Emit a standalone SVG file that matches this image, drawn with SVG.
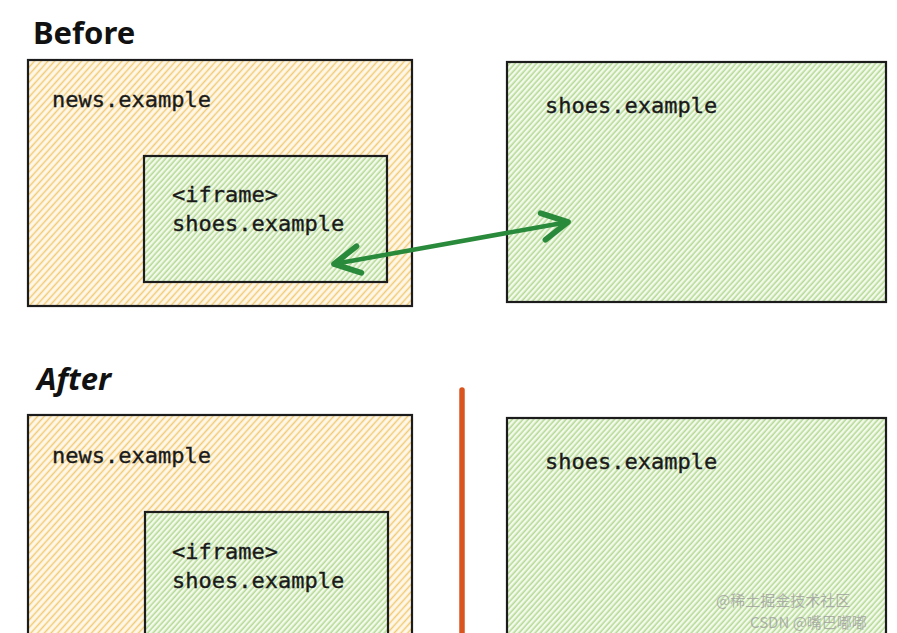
<svg xmlns="http://www.w3.org/2000/svg" width="897" height="633" viewBox="0 0 897 633">
<defs>
<pattern id="hatchO" width="5" height="5" patternUnits="userSpaceOnUse" patternTransform="rotate(42)">
<rect width="5" height="5" fill="#fef8ea"/>
<line x1="1.5" y1="0" x2="1.5" y2="5" stroke="#f2ca72" stroke-width="1.5"/>
</pattern>
<pattern id="hatchG" width="4" height="4" patternUnits="userSpaceOnUse" patternTransform="rotate(42)">
<rect width="4" height="4" fill="#f3f9ec"/>
<line x1="1.2" y1="0" x2="1.2" y2="4" stroke="#a9d583" stroke-width="1.3"/>
</pattern>
<marker id="ah" viewBox="0 0 20 20" refX="17" refY="10" markerWidth="7.5" markerHeight="7.5" orient="auto-start-reverse" markerUnits="strokeWidth">
<path d="M2,2 L17,10 L2,18" fill="none" stroke="#2a8a3c" stroke-width="3.4" stroke-linecap="round" stroke-linejoin="round"/>
</marker>
</defs>
<style>
.box{stroke:#1c1c1c;stroke-width:2.2}
.o{fill:url(#hatchO)}
.g{fill:url(#hatchG)}
.mono{font-family:"DejaVu Sans Mono",monospace;font-size:22px;fill:#1a1a1a;stroke:#1a1a1a;stroke-width:0.35}
.hand{font-family:"Noto Sans",sans-serif;font-size:31px;font-weight:bold;fill:#111}
.wm{font-family:"Noto Sans CJK SC",sans-serif;font-size:15px;fill:#9a9a9a;fill-opacity:0.75}
</style>
<rect width="897" height="633" fill="#ffffff"/>
<text class="hand" x="33" y="44">Before</text>
<text class="hand" x="37" y="390" font-style="italic">After</text>

<g id="news-before">
<rect class="box o" x="28" y="60" width="384" height="246"/>
<text class="mono" x="52" y="107">news.example</text>
</g>
<g id="iframe-before">
<rect class="box g" x="144" y="156" width="243" height="126"/>
<text class="mono" x="172" y="202">&lt;iframe&gt;</text>
<text class="mono" x="172" y="231">shoes.example</text>
</g>
<g id="shoes-before">
<rect class="box g" x="507" y="62" width="379" height="240"/>
<text class="mono" x="545" y="113">shoes.example</text>
</g>

<g id="news-after">
<rect class="box o" x="28" y="415" width="384" height="230"/>
<text class="mono" x="52" y="463">news.example</text>
</g>
<g id="iframe-after">
<rect class="box g" x="145" y="512" width="243" height="133"/>
<text class="mono" x="172" y="559">&lt;iframe&gt;</text>
<text class="mono" x="172" y="588">shoes.example</text>
</g>
<g id="shoes-after">
<rect class="box g" x="507" y="418" width="379" height="227"/>
<text class="mono" x="545" y="469">shoes.example</text>
</g>

<g id="connectors">
<line x1="334" y1="264" x2="568" y2="222" stroke="#2a8a3c" stroke-width="4.5" stroke-linecap="round" marker-start="url(#ah)" marker-end="url(#ah)"/>
<line x1="462" y1="390" x2="462" y2="640" stroke="#d9541e" stroke-width="5.5" stroke-linecap="round"/>
</g>

<text class="wm" x="716" y="606">@稀土掘金技术社区</text>
<text class="wm" x="750" y="628">CSDN @嘴巴嘟嘟</text>
</svg>
